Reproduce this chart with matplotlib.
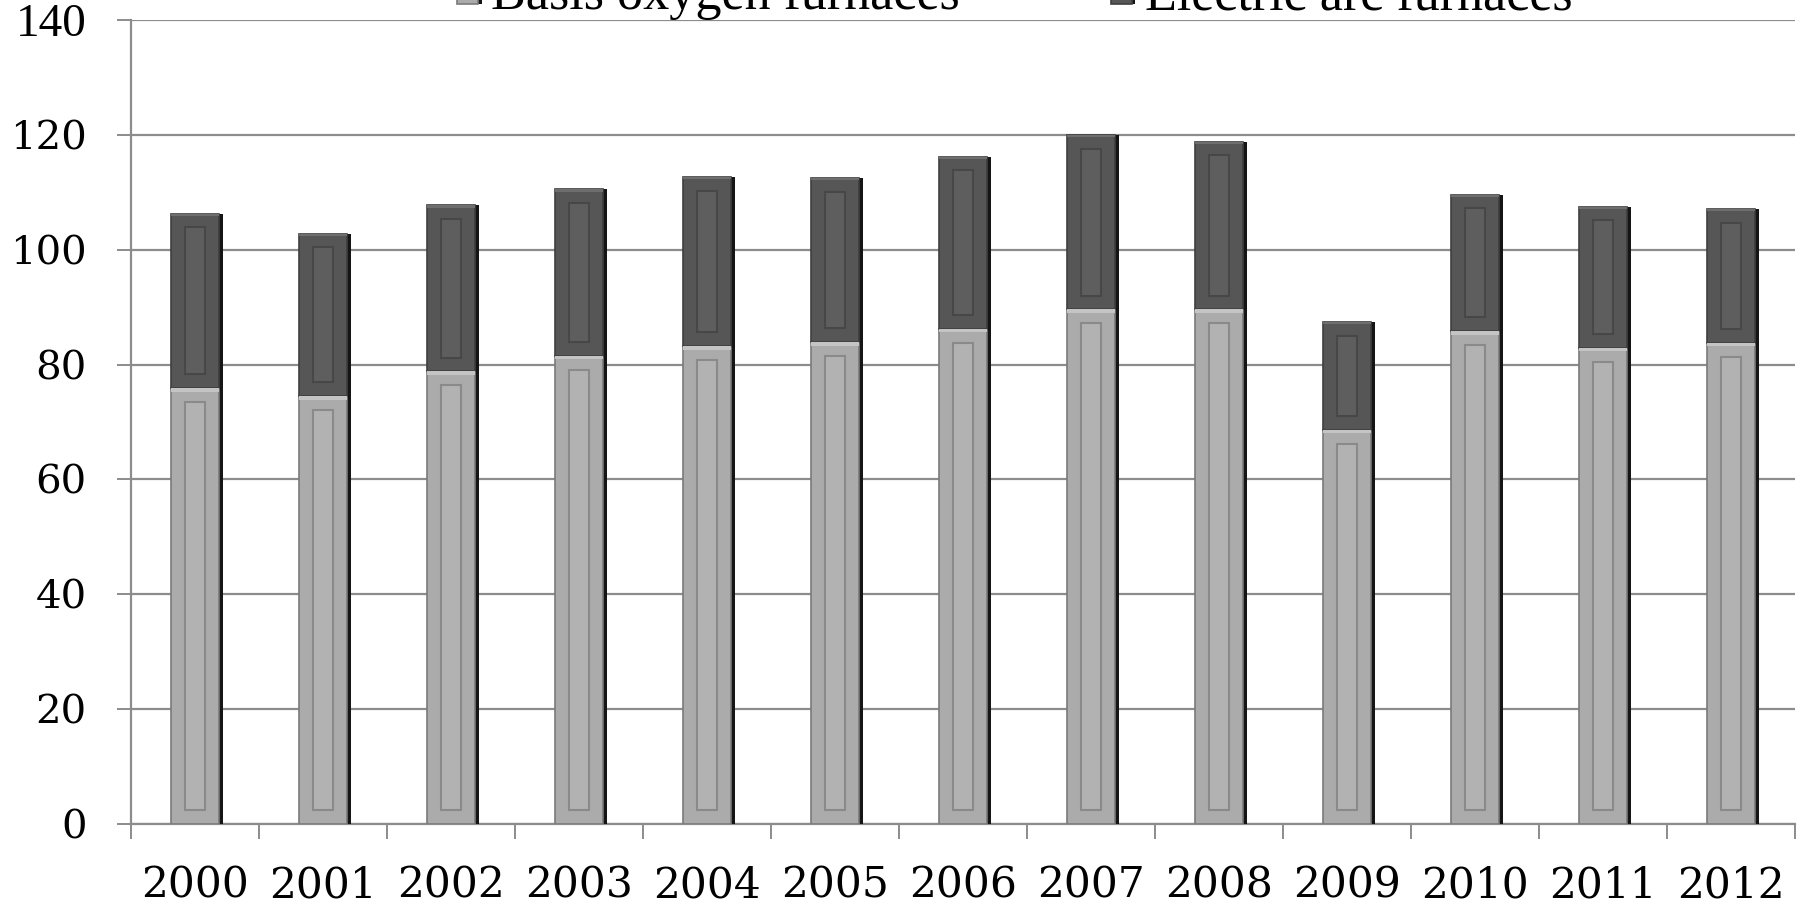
import numpy as np
import matplotlib
matplotlib.use('Agg')
import matplotlib.pyplot as plt
import matplotlib.patheffects as pe

# Crude steel production by process (million tonnes)
years = ['2000', '2001', '2002', '2003', '2004', '2005', '2006',
         '2007', '2008', '2009', '2010', '2011', '2012']
basic_oxygen = [75.9, 74.5, 78.8, 81.5, 83.2, 83.9, 86.2,
                89.6, 89.6, 68.6, 85.8, 82.9, 83.8]
electric_arc = [30.4, 28.3, 28.9, 29.0, 29.5, 28.6, 30.0,
                30.4, 29.2, 18.8, 23.8, 24.6, 23.3]
series_names = ['Basis oxygen furnaces', 'Electric arc furnaces']

LIGHT = '#ababab'
DARK = '#565656'
GRID = '#8c8c8c'

fig = plt.figure(figsize=(18.04, 9.07), dpi=100)
ax = fig.add_axes([0.0726, 0.0915, 0.9224, 0.8865])

x = np.arange(len(years))
bof = np.array(basic_oxygen)
eaf = np.array(electric_arc)

bar_w = 0.38
inner_w = 0.16
pad = 2.4
shadow = [pe.SimplePatchShadow(offset=(2.4, 0), shadow_rgbFace='#151515', alpha=1.0),
          pe.Normal()]

b1 = ax.bar(x, bof, bar_w, color=LIGHT, edgecolor='#7a7a7a', linewidth=1.2,
            zorder=3, label=series_names[0])
b2 = ax.bar(x, eaf, bar_w, bottom=bof, color=DARK, edgecolor='#3e3e3e',
            linewidth=1.2, zorder=3, label=series_names[1])
for bars in (b1, b2):
    for p in bars:
        p.set_path_effects(shadow)

# inner bevelled panels
ax.bar(x, bof - 2 * pad, inner_w, bottom=pad, color='#b2b2b2',
       edgecolor='#8a8a8a', linewidth=1.5, zorder=4)
ax.bar(x, eaf - 2 * pad, inner_w, bottom=bof + pad, color='#5e5e5e',
       edgecolor='#474747', linewidth=1.5, zorder=4)
# light seam at the top of each lower segment
ax.bar(x, 0.6, bar_w, bottom=bof - 0.6, color='#c4c4c4', linewidth=0, zorder=5)
# faint highlight along the top of each upper segment
ax.bar(x, 0.4, bar_w, bottom=bof + eaf - 0.4, color='#6e6e6e', linewidth=0, zorder=5)

ax.set_xlim(-0.5, len(years) - 0.5)
ax.set_ylim(0, 140)
ax.set_yticks(np.arange(0, 141, 20))
ax.set_xticks(x)
ax.set_xticklabels(years)
ax.set_xticks(np.arange(len(years) + 1) - 0.5, minor=True)

ax.yaxis.grid(True, color=GRID, linewidth=1.6, zorder=0)
ax.set_axisbelow(True)
for side in ('top', 'right'):
    ax.spines[side].set_visible(False)
for side in ('left', 'bottom'):
    ax.spines[side].set_color(GRID)
    ax.spines[side].set_linewidth(1.6)

ax.tick_params(axis='x', which='major', length=0, pad=29)
ax.tick_params(axis='x', which='minor', length=11, width=1.4, color=GRID, direction='out')
ax.tick_params(axis='y', length=10, width=1.4, color=GRID, direction='out', pad=22)
for lab in ax.get_yticklabels():
    lab.set_fontfamily('DejaVu Serif')
    lab.set_fontsize(29)
for lab in ax.get_xticklabels():
    lab.set_fontfamily('DejaVu Serif')
    lab.set_fontsize(30.5)
top_lab = ax.get_yticklabels()[-1]
top_lab.set_fontfamily('Liberation Serif')
top_lab.set_fontsize(34)

fig.legend(handles=[b1, b2], labels=series_names, loc='center',
           bbox_to_anchor=(0.5626, 1.004), ncol=2, frameon=False,
           prop={'family': 'Liberation Serif', 'size': 37.5},
           handlelength=0.4, handleheight=0.4, handletextpad=0.25,
           columnspacing=2.9, borderaxespad=0)

fig.savefig('out.png', dpi=100)
